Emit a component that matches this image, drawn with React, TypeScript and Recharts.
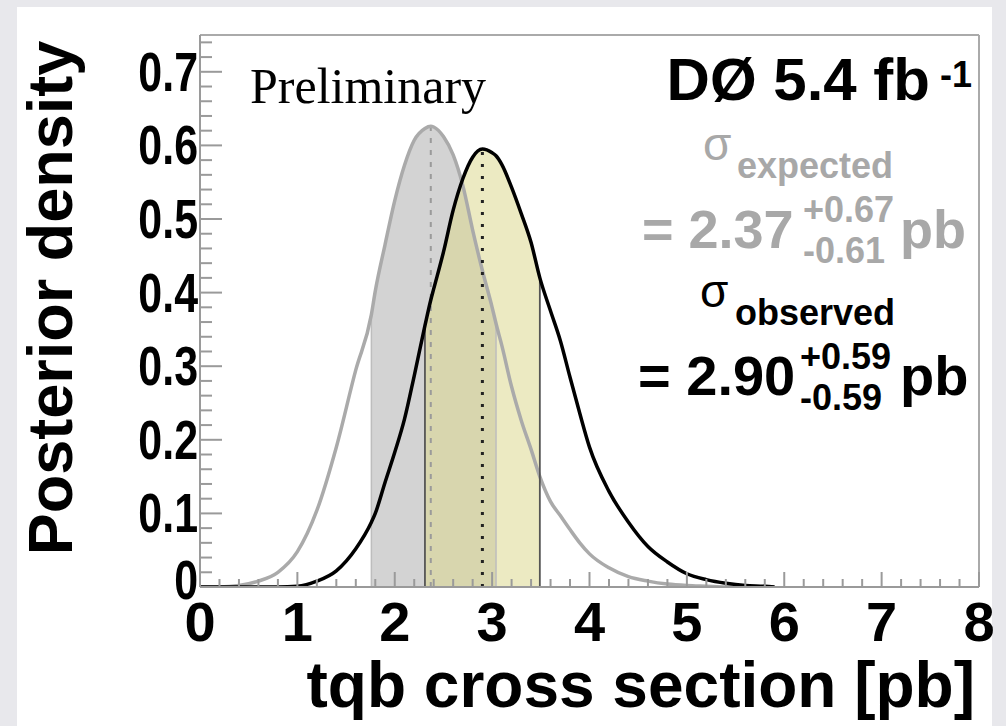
import React from "react";
import { ComposedChart, Line, Area, XAxis, YAxis, ReferenceLine, Label } from "recharts";

// cross section grid [pb] and posterior densities
const XS = [
  0, 0.2, 0.4, 0.6, 0.8, 1.0, 1.2, 1.4, 1.6, 1.76, 1.8, 1.9, 2.0, 2.1, 2.2, 2.31, 2.37, 2.4, 2.5,
  2.6, 2.7, 2.8, 2.9, 3.0, 3.04, 3.1, 3.2, 3.3, 3.4, 3.49, 3.6, 3.7, 3.8, 3.9, 4.0, 4.2, 4.4, 4.6,
  4.8, 5.0, 5.2, 5.4, 5.6, 5.8, 5.9,
];
const EXPECTED = [
  0, 0, 0.002, 0.008, 0.02, 0.048, 0.104, 0.19, 0.295, 0.37, 0.402, 0.465, 0.525, 0.573, 0.607,
  0.623, 0.626, 0.625, 0.612, 0.587, 0.545, 0.485, 0.43, 0.38, 0.358, 0.328, 0.272, 0.226, 0.187,
  0.15, 0.116, 0.097, 0.078, 0.06, 0.045, 0.026, 0.014, 0.008, 0.004, 0.002, 0.001, 0, 0, 0, 0,
];
const OBSERVED = [
  0, 0, 0, 0, 0, 0.001, 0.008, 0.022, 0.052, 0.088, 0.1, 0.142, 0.183, 0.228, 0.287, 0.355, 0.39,
  0.405, 0.455, 0.512, 0.555, 0.584, 0.595, 0.59, 0.586, 0.574, 0.543, 0.507, 0.468, 0.42, 0.375,
  0.335, 0.285, 0.236, 0.19, 0.13, 0.088, 0.055, 0.034, 0.018, 0.01, 0.005, 0.002, 0.001, 0,
];
const EXP_BAND = [1.76, 3.04];
const OBS_BAND = [2.31, 3.49];
const EXP_MEAN = 2.37;
const OBS_MEAN = 2.9;

const X_MAJOR = [0, 1, 2, 3, 4, 5, 6, 7, 8];
const Y_MAJOR = [0, 0.1, 0.2, 0.3, 0.4, 0.5, 0.6, 0.7];
const Y_LABELS = ["0", "0.1", "0.2", "0.3", "0.4", "0.5", "0.6", "0.7"];
const Y_MAX = 0.75;

const X_TICKS = X_MAJOR.slice(0, -1)
  .flatMap((v) => [0, 0.2, 0.4, 0.6, 0.8].map((d) => +(v + d).toFixed(1)))
  .concat([8]);
const Y_TICKS = Y_MAJOR.flatMap((v) => [0, 0.02, 0.04, 0.06, 0.08].map((d) => +(v + d).toFixed(2))).filter(
  (v) => v < Y_MAX
);

const inBand = (x: number, b: number[]) => x >= b[0] - 1e-9 && x <= b[1] + 1e-9;
const data = XS.map((x, i) => ({
  x,
  expected: EXPECTED[i],
  observed: OBSERVED[i],
  expBand: inBand(x, EXP_BAND) ? EXPECTED[i] : null,
  obsBand: inBand(x, OBS_BAND) ? OBSERVED[i] : null,
}));
const at = (arr: number[], x: number) => arr[XS.indexOf(x)];

const AXIS = "#9a9a9a";
const GREY_TXT = "#a8a8a8";
const SANS = "'Liberation Sans', Arial, Helvetica, sans-serif";

const XTick = (props: any) => {
  const { x, y, payload } = props;
  const v = payload.value;
  const major = X_MAJOR.includes(v);
  return (
    <g>
      <line x1={x} y1={y} x2={x} y2={y - (major ? 15 : 8)} stroke={AXIS} strokeWidth={2} />
      {major && (
        <text x={x} y={y + 54} textAnchor="middle" fontFamily={SANS} fontWeight="bold" fontSize={56} fill="#000">
          {v}
        </text>
      )}
    </g>
  );
};

const YTick = (props: any) => {
  const { x, y, payload } = props;
  const v = payload.value;
  const idx = Y_MAJOR.findIndex((m) => Math.abs(m - v) < 1e-6);
  const major = idx >= 0;
  return (
    <g>
      <line x1={x} y1={y} x2={x + (major ? 22 : 12)} y2={y} stroke={AXIS} strokeWidth={2} />
      {major && (
        <text
          transform={`translate(${x - 2},${y + (idx === 0 ? 12 : 19)}) scale(0.78,1)`}
          textAnchor="end"
          fontFamily={SANS}
          fontWeight="bold"
          fontSize={55}
          fill="#000"
        >
          {Y_LABELS[idx]}
        </text>
      )}
    </g>
  );
};

export default function App() {
  return (
    <div style={{ position: "fixed", left: 0, top: 0, width: 1006, height: 726, background: "#e8e8ec" }}>
      <div style={{ position: "absolute", left: 17, top: 7, width: 975, height: 719, background: "#fff" }} />
      <div style={{ position: "absolute", left: 0, top: 0 }}>
        <ComposedChart width={1006} height={726} data={data} margin={{ top: 35, right: 27, bottom: 99, left: 140 }}>
          <XAxis
            dataKey="x"
            type="number"
            domain={[0, 8]}
            ticks={X_TICKS}
            interval={0}
            tick={<XTick />}
            tickLine={false}
            tickSize={0}
            tickMargin={0}
            height={40}
            axisLine={{ stroke: AXIS, strokeWidth: 2 }}
            allowDataOverflow
          >
            <Label
              content={() => (
                <text x={975} y={707} textAnchor="end" fontFamily={SANS} fontWeight="bold" fontSize={64} fill="#000">
                  tqb cross section [pb]
                </text>
              )}
            />
          </XAxis>
          <YAxis
            type="number"
            domain={[0, Y_MAX]}
            ticks={Y_TICKS}
            interval={0}
            tick={<YTick />}
            tickLine={false}
            tickSize={0}
            tickMargin={0}
            width={60}
            axisLine={{ stroke: AXIS, strokeWidth: 2 }}
            allowDataOverflow
          >
            <Label
              content={() => (
                <text
                  transform="translate(72,298) rotate(-90)"
                  textAnchor="middle"
                  fontFamily={SANS}
                  fontWeight="bold"
                  fontSize={63}
                  fill="#000"
                >
                  Posterior density
                </text>
              )}
            />
          </YAxis>
          <ReferenceLine y={Y_MAX} stroke="#aaa" strokeWidth={2} />
          <ReferenceLine x={8} stroke="#aaa" strokeWidth={2} />
          <Area dataKey="expBand" type="monotone" fill="#d3d3d3" fillOpacity={1} stroke="none" isAnimationActive={false} />
          <ReferenceLine segment={[{ x: EXP_BAND[0], y: 0 }, { x: EXP_BAND[0], y: at(EXPECTED, EXP_BAND[0]) }]} stroke="#bdbdbd" strokeWidth={1.5} />
          <ReferenceLine segment={[{ x: EXP_BAND[1], y: 0 }, { x: EXP_BAND[1], y: at(EXPECTED, EXP_BAND[1]) }]} stroke="#bdbdbd" strokeWidth={1.5} />
          <ReferenceLine segment={[{ x: EXP_MEAN, y: 0 }, { x: EXP_MEAN, y: at(EXPECTED, EXP_MEAN) }]} stroke="#9a9a9a" strokeWidth={2} strokeDasharray="5 7" />
          <Line dataKey="expected" type="monotone" stroke="#aaaaaa" strokeWidth={3.5} dot={false} isAnimationActive={false} />
          <Area dataKey="obsBand" type="monotone" fill="#dcd890" fillOpacity={0.55} stroke="none" isAnimationActive={false} />
          <ReferenceLine segment={[{ x: OBS_BAND[0], y: 0 }, { x: OBS_BAND[0], y: at(OBSERVED, OBS_BAND[0]) }]} stroke="#555" strokeWidth={1.8} />
          <ReferenceLine segment={[{ x: OBS_BAND[1], y: 0 }, { x: OBS_BAND[1], y: at(OBSERVED, OBS_BAND[1]) }]} stroke="#555" strokeWidth={1.8} />
          <ReferenceLine segment={[{ x: OBS_MEAN, y: 0 }, { x: OBS_MEAN, y: at(OBSERVED, OBS_MEAN) }]} stroke="#222" strokeWidth={3} strokeDasharray="3 9" />
          <Line dataKey="observed" type="monotone" stroke="#000" strokeWidth={3.5} dot={false} isAnimationActive={false} />
        </ComposedChart>
      </div>
      <svg width={1006} height={726} style={{ position: "absolute", left: 0, top: 0, pointerEvents: "none" }}>
        <text x={250} y={103} fontFamily="'Liberation Serif', 'Times New Roman', serif" fontSize={50} fill="#000">
          Preliminary
        </text>
        <g fontFamily={SANS} fontWeight="bold" fill="#000">
          <text x={930} y={100} textAnchor="end" fontSize={60}>DØ 5.4 fb</text>
          <text x={940} y={87} fontSize={36}>-1</text>
        </g>
        <g fontFamily={SANS} fill={GREY_TXT} fontWeight="bold">
          <text x={703} y={160} fontSize={46} fontWeight="normal">σ</text>
          <text x={737} y={178} fontSize={36}>expected</text>
          <text x={642} y={248} fontSize={54}>= 2.37</text>
          <text x={803} y={222} fontSize={36}>+0.67</text>
          <text x={803} y={263} fontSize={36}>-0.61</text>
          <text x={900} y={248} fontSize={54}>pb</text>
        </g>
        <g fontFamily={SANS} fill="#000" fontWeight="bold">
          <text x={700} y={307} fontSize={46} fontWeight="normal">σ</text>
          <text x={735} y={325} fontSize={36}>observed</text>
          <text x={638} y={395} fontSize={56}>= 2.90</text>
          <text x={800} y={369} fontSize={36}>+0.59</text>
          <text x={800} y={410} fontSize={36}>-0.59</text>
          <text x={900} y={395} fontSize={56}>pb</text>
        </g>
      </svg>
    </div>
  );
}
